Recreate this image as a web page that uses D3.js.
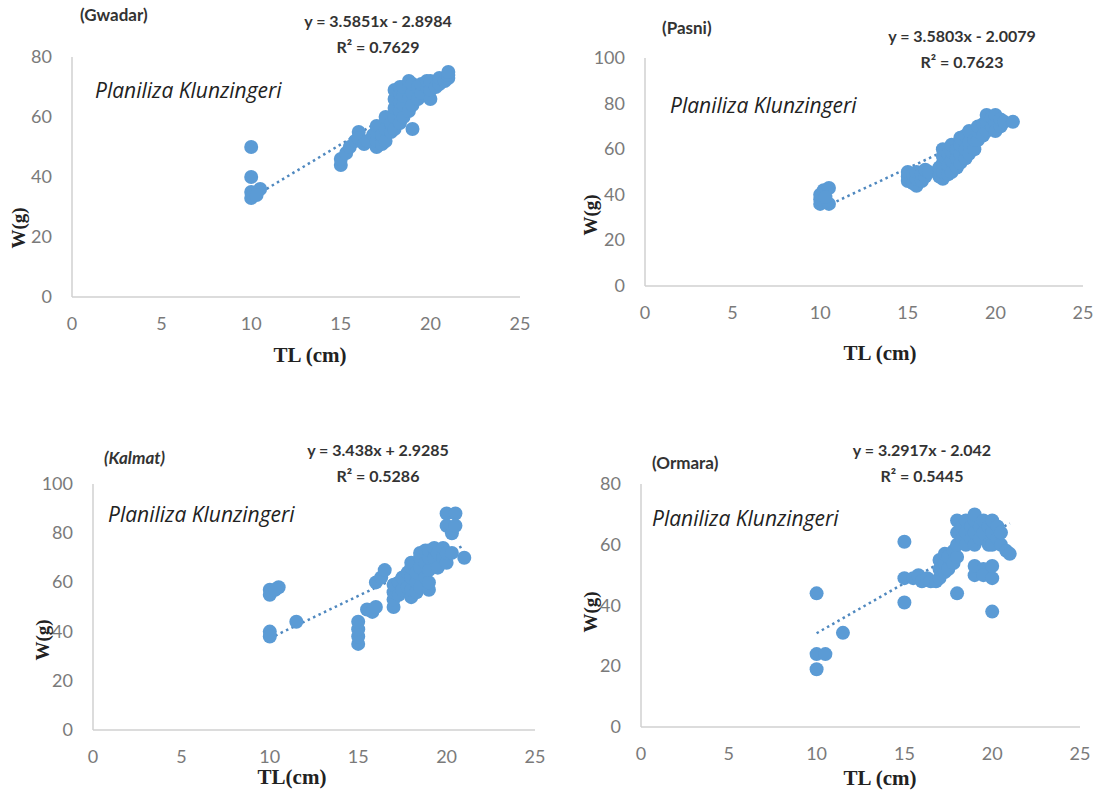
<!DOCTYPE html>
<html>
<head>
<meta charset="utf-8">
<script src="https://cdn.jsdelivr.net/npm/d3@7"></script>
<style>
  body { margin: 0; background: #fff; }
  svg { display: block; }
</style>
</head>
<body>
<div id="chart"></div>
<script>
// length (TL, cm) and weight (W, g)
var gwadarTL = [10,10,10,10,10.5,10.3, 15,15,15.3,15.5,15.8,16,16,16.3,16.5,16.8,
  17,17,17,17,17.3,17.3,17.5,17.5,17.5,17.8,17.8, 18,18,18,18,18,18.3,18.3,18.3,18.3,18.3,
  18.5,18.5,18.5,18.5,18.8,18.8,18.8,18.8, 19,19,19,19,19.3,19.3,19.5,19.5,19.8,19.8,
  20,20,20,20.3,20.5,20.5,20.8,21,21,21];
var gwadarW = [50,40,35,33,36,34, 44,46,48,50,52,55,53,51,52,54,
  50,52,55,57,51,54,52,56,60,55,58, 56,60,63,66,69,58,62,65,68,70,
  60,64,67,70,62,66,70,72, 56,64,68,71,66,70,68,71,70,72,
  66,69,72,70,71,73,72,73,74,75];

var pasniTL = [10,10,10,10.2,10.5,10.5,10.3, 15,15,15,15.3,15.3,15.5,15.5,15.5,15.8,15.8,16,16,16.2,
  16.8,16.8,17,17,17,17,17,17.3,17.3,17.3,17.5,17.5,17.5,17.5,17.8,17.8,17.8,
  18,18,18,18,18.3,18.3,18.3,18.5,18.5,18.5,18.8,18.8,
  19,19,19,19.3,19.3,19.5,19.5,19.5,19.8,19.8,20,20,20,20.3,20.3,20.5,21];
var pasniW = [36,38,40,42,43,36,39, 46,48,50,45,49,44,47,50,46,49,48,51,50,
  48,52,47,50,54,57,60,49,53,58,50,55,59,62,52,56,60,
  54,58,62,65,56,60,66,58,63,68,60,64,
  64,68,70,66,71,68,72,75,70,74,72,75,68,70,73,72,72];

var kalmatTL = [10,10,10,10,10.5,10.3,11.5, 15,15,15,15,15.5,15.8,16,16,16.3,16.5,
  17,17,17,17,17.3,17.3,17.5,17.5,17.8,17.8, 18,18,18,18,18,18.3,18.3,18.3,18.5,18.5,18.5,18.5,
  18.8,18.8,18.8,19,19,19,19,19,19.3,19.3,19.5,19.5,19.8,19.8,
  20,20,20,20,20.3,20.5,20.5,20.3,21];
var kalmatW = [57,55,40,38,58,57,44, 35,38,41,44,49,48,50,60,62,65,
  50,53,56,59,55,60,57,62,58,64, 54,57,62,66,68,56,60,64,58,66,70,72,
  62,68,73,57,60,65,70,73,70,74,66,72,70,74,
  68,72,83,88,80,88,83,72,70];

var ormaraTL = [10,10,10,10.5,11.5, 15,15,15,15.5,15.8,16,16.3,16.5,16.8,
  17,17,17,17.3,17.3,17.3,17.5,17.5,17.8,17.8, 18,18,18,18,18,18.3,18.3,18.5,18.5,18.5,18.8,18.8,
  19,19,19,19,19,19,19.3,19.3,19.5,19.5,19.5,19.5,19.8,19.8,
  20,20,20,20,20,20,20.3,20.3,20.5,20.5,20.8,21];
var ormaraW = [44,24,19,24,31, 61,49,41,49,50,48,49,48,48,
  49,52,55,51,54,57,52,56,54,58, 44,56,60,64,68,62,66,60,64,68,62,66,
  50,53,60,64,68,70,62,66,52,50,64,68,60,66,
  38,49,53,60,64,68,62,66,60,64,58,57];

var sites = ["(Gwadar)", "(Pasni)", "(Kalmat)", "(Ormara)"];
var slopes = [3.5851, 3.5803, 3.438, 3.2917];
var intercepts = [-2.8984, -2.0079, 2.9285, -2.042];
var equations = ["y = 3.5851x - 2.8984", "y = 3.5803x - 2.0079", "y = 3.438x + 2.9285", "y = 3.2917x - 2.042"];
var r2Labels = ["R² = 0.7629", "R² = 0.7623", "R² = 0.5286", "R² = 0.5445"];
var xTicks = [0, 5, 10, 15, 20, 25];
var yMax = [80, 100, 100, 80];

var width = 1103, height = 794;
var blue = "#5b9bd5";

var svg = d3.select("#chart").append("svg")
  .attr("width", width)
  .attr("height", height);

// where each little chart sits on the page
var panels = [
  {tl: gwadarTL, w: gwadarW, x0: 72, x1: 520, yb: 297, yt: 57, xt: "TL (cm)", xtX: 310, xtY: 362,
   wgX: 18, wgY: 228, eqX: 378, eqY: 27, siteX: 80, siteY: 21, siteItalic: false, spX: 95, spY: 98},
  {tl: pasniTL, w: pasniW, x0: 645, x1: 1083, yb: 286, yt: 58, xt: "TL (cm)", xtX: 880, xtY: 360,
   wgX: 590, wgY: 215, eqX: 962, eqY: 42, siteX: 662, siteY: 34, siteItalic: false, spX: 670, spY: 113},
  {tl: kalmatTL, w: kalmatW, x0: 93, x1: 535, yb: 730, yt: 484, xt: "TL(cm)", xtX: 292, xtY: 784,
   wgX: 42, wgY: 640, eqX: 378, eqY: 456, siteX: 104, siteY: 464, siteItalic: true, spX: 108, spY: 522},
  {tl: ormaraTL, w: ormaraW, x0: 641, x1: 1080, yb: 727, yt: 484, xt: "TL (cm)", xtX: 880, xtY: 785,
   wgX: 590, wgY: 612, eqX: 922, eqY: 456, siteX: 652, siteY: 469, siteItalic: false, spX: 652, spY: 526}
];

panels.forEach(function(p, i) {
  var x = d3.scaleLinear().domain([0, 25]).range([p.x0, p.x1]);
  var y = d3.scaleLinear().domain([0, yMax[i]]).range([p.yb, p.yt]);
  var g = svg.append("g");

  // axes lines
  g.append("line").attr("x1", x(0)).attr("x2", x(25)).attr("y1", y(0)).attr("y2", y(0))
    .attr("stroke", "#d0d0d0").attr("stroke-width", 1.5);
  g.append("line").attr("x1", x(0)).attr("x2", x(0)).attr("y1", y(0)).attr("y2", y(yMax[i]))
    .attr("stroke", "#d0d0d0").attr("stroke-width", 1.5);

  g.selectAll(".xt").data(xTicks).enter().append("text")
    .attr("x", function(d) { return x(d); })
    .attr("y", y(0) + 33)
    .attr("text-anchor", "middle")
    .attr("font-family", "Lato, 'Open Sans', sans-serif")
    .attr("font-size", "18px")
    .attr("fill", "#7a7a7a")
    .text(function(d) { return d; });

  g.selectAll(".yt").data(d3.range(0, yMax[i] + 1, 20)).enter().append("text")
    .attr("x", x(0) - 20)
    .attr("y", function(d) { return y(d) + 6; })
    .attr("text-anchor", "end")
    .attr("font-family", "Lato, 'Open Sans', sans-serif")
    .attr("font-size", "18px")
    .attr("fill", "#7a7a7a")
    .text(function(d) { return d; });

  // dotted linear trendline over the data range
  var ext = d3.extent(p.tl);
  g.append("line")
    .attr("x1", x(ext[0])).attr("y1", y(slopes[i] * ext[0] + intercepts[i]))
    .attr("x2", x(ext[1])).attr("y2", y(slopes[i] * ext[1] + intercepts[i]))
    .attr("stroke", "#4f88bf").attr("stroke-width", 2.5)
    .attr("stroke-dasharray", "2.5,3.5");

  var pts = p.tl.map(function(t, k) { return {tl: t, w: p.w[k]}; });
  g.selectAll("circle").data(pts).enter().append("circle")
    .attr("cx", function(d) { return x(d.tl); })
    .attr("cy", function(d) { return y(d.w); })
    .attr("r", 7)
    .attr("fill", blue);

  g.append("text")
    .attr("x", p.xtX).attr("y", p.xtY)
    .attr("text-anchor", "middle")
    .attr("font-family", "'Liberation Serif', 'Times New Roman', serif")
    .attr("font-weight", "bold")
    .attr("font-size", "21px")
    .attr("fill", "#222")
    .text(p.xt);

  g.append("text")
    .attr("transform", "translate(" + p.wgX + "," + p.wgY + ") rotate(-90)")
    .attr("text-anchor", "middle")
    .attr("dy", "0.35em")
    .attr("font-family", "'Liberation Serif', 'Times New Roman', serif")
    .attr("font-weight", "bold")
    .attr("font-size", "19px")
    .attr("fill", "#222")
    .text("W(g)");

  g.append("text")
    .attr("x", p.eqX).attr("y", p.eqY)
    .attr("text-anchor", "middle")
    .attr("font-family", "Lato, 'Open Sans', sans-serif")
    .attr("font-weight", "bold")
    .attr("font-size", "16px")
    .attr("fill", "#333")
    .text(equations[i]);

  g.append("text")
    .attr("x", p.eqX).attr("y", p.eqY + 26)
    .attr("text-anchor", "middle")
    .attr("font-family", "Lato, 'Open Sans', sans-serif")
    .attr("font-weight", "bold")
    .attr("font-size", "16px")
    .attr("fill", "#333")
    .text(r2Labels[i]);

  g.append("text")
    .attr("x", p.siteX).attr("y", p.siteY)
    .attr("font-family", "Lato, 'Open Sans', sans-serif")
    .attr("font-weight", "bold")
    .attr("font-style", p.siteItalic ? "italic" : "normal")
    .attr("font-size", "17px")
    .attr("fill", "#333")
    .text(sites[i]);

  g.append("text")
    .attr("x", p.spX).attr("y", p.spY)
    .attr("font-family", "'Open Sans', Lato, sans-serif")
    .attr("font-style", "italic")
    .attr("font-size", "21px")
    .attr("fill", "#222")
    .text("Planiliza Klunzingeri");
});
</script>
</body>
</html>
